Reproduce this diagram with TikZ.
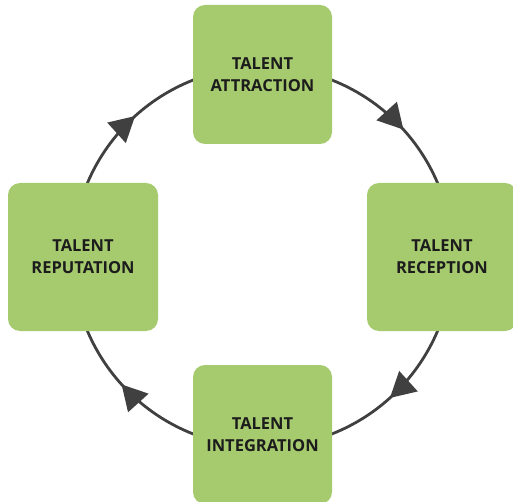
\documentclass[tikz,border=0pt]{standalone}
\usepackage{fontspec}
\setmainfont{Open Sans}
\usetikzlibrary{decorations.markings,arrows.meta}
\definecolor{boxgreen}{RGB}{166,202,110}
\definecolor{linegray}{RGB}{64,64,64}
\definecolor{txt}{RGB}{28,28,28}
\begin{document}
\begin{tikzpicture}[x=1pt,y=-1pt,
  stagebox/.style={fill=boxgreen, rounded corners=12pt, align=center,
    text=txt, font=\fontsize{16.5}{22}\selectfont\bfseries, inner sep=0pt},
  tipmark/.style={\arrow{Triangle[length=25pt,width=27pt]}},
  cyc/.style={draw=linegray, line width=2.8pt,
    postaction={decorate},
    decoration={markings,
      mark=at position 0.133 with {\arrow{Triangle[length=25pt,width=27pt]}},
      mark=at position 0.383 with {\arrow{Triangle[length=25pt,width=27pt]}},
      mark=at position 0.633 with {\arrow{Triangle[length=25pt,width=27pt]}},
      mark=at position 0.883 with {\arrow{Triangle[length=25pt,width=27pt]}}}}]
\useasboundingbox (0,0) rectangle (513,502);
\fill[white] (0,0) rectangle (513,502);
\coordinate (c) at (262.5,257);
\draw[cyc] (c) ++(0:190) arc[start angle=0, end angle=360, radius=190];
\node[stagebox, minimum width=139pt, minimum height=139pt] (attr) at (262.5,74.5) {TALENT\\ATTRACTION};
\node[stagebox, minimum width=150pt, minimum height=148pt] (rece) at (442,257) {TALENT\\RECEPTION};
\node[stagebox, minimum width=139pt, minimum height=139pt] (inte) at (262.5,434.5) {TALENT\\INTEGRATION};
\node[stagebox, minimum width=150pt, minimum height=148pt] (repu) at (83,257) {TALENT\\REPUTATION};
\end{tikzpicture}
\end{document}
